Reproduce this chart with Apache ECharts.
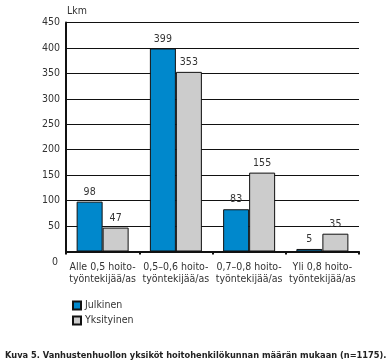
<!DOCTYPE html>
<html><head><meta charset="utf-8">
<script src="https://cdn.jsdelivr.net/npm/echarts@6/dist/echarts.min.js"></script>
<style>html,body{margin:0;padding:0;background:#fff}#c{width:388px;height:364px}</style>
</head><body><div id="c"></div>
<script>
const categories = ['Alle 0,5 hoito-\ntyöntekijää/as', '0,5–0,6 hoito-\ntyöntekijää/as', '0,7–0,8 hoito-\ntyöntekijää/as', 'Yli 0,8 hoito-\ntyöntekijää/as'];
const julkinen = [98, 399, 83, 5];
const yksityinen = [47, 353, 155, 35];
const seriesNames = ['Julkinen', 'Yksityinen'];
const yTicks = {min: 0, max: 450, interval: 50};
const unitLabel = 'Lkm';
const caption = 'Kuva 5. Vanhustenhuollon yksiköt hoitohenkilökunnan määrän mukaan (n=1175).';

const FONT = '"DejaVu Sans Condensed"';
const chart = echarts.init(document.getElementById('c'));
const label = {show: true, position: 'top', distance: 4, fontFamily: FONT, fontSize: 10.5, color: '#333'};
chart.setOption({
  animation: false,
  textStyle: {fontFamily: FONT},
  title: [
    {text: unitLabel, left: 62, top: 1, textStyle: {fontFamily: FONT, fontSize: 10.5, fontWeight: 'normal', color: '#333'}},
    {text: caption, left: 0, top: 346, textStyle: {fontFamily: FONT, fontSize: 9.2, fontWeight: 'bold', color: '#222'}}
  ],
  legend: {
    orient: 'vertical', left: 67, top: 295, itemWidth: 8, itemHeight: 8, itemGap: 4,
    icon: 'rect',
    textStyle: {fontFamily: FONT, fontSize: 10.5, color: '#333', padding: [0, 0, 0, -1]},
    data: seriesNames
  },
  grid: {left: 66, right: 29, top: 22.5, height: 229, containLabel: false},
  xAxis: {
    type: 'category', data: categories,
    axisLine: {lineStyle: {color: '#111', width: 2}},
    axisTick: {show: true, length: 3, lineStyle: {color: '#111', width: 2}},
    axisLabel: {fontFamily: FONT, fontSize: 10.5, color: '#333', lineHeight: 12, margin: 10, interval: 0}
  },
  yAxis: {
    type: 'value', min: yTicks.min, max: yTicks.max, interval: yTicks.interval,
    axisLine: {show: true, lineStyle: {color: '#111', width: 2}},
    axisTick: {show: false},
    splitLine: {lineStyle: {color: '#111', width: 1}},
    axisLabel: {
      fontFamily: FONT, fontSize: 10.5, color: '#333', margin: 6,
      formatter: v => v === 0 ? '{z|0}' : String(v),
      rich: {z: {fontFamily: FONT, fontSize: 10.5, color: '#333', padding: [22, 2, 0, 0]}}
    }
  },
  series: [
    {name: seriesNames[0], type: 'bar', data: julkinen, barWidth: 26, barGap: '0%',
     itemStyle: {color: '#0088cc', borderColor: '#111', borderWidth: 1}, label: label},
    {name: seriesNames[1], type: 'bar', data: yksityinen, barWidth: 26,
     itemStyle: {color: '#cccccc', borderColor: '#111', borderWidth: 1}, label: label}
  ]
});
</script></body></html>
